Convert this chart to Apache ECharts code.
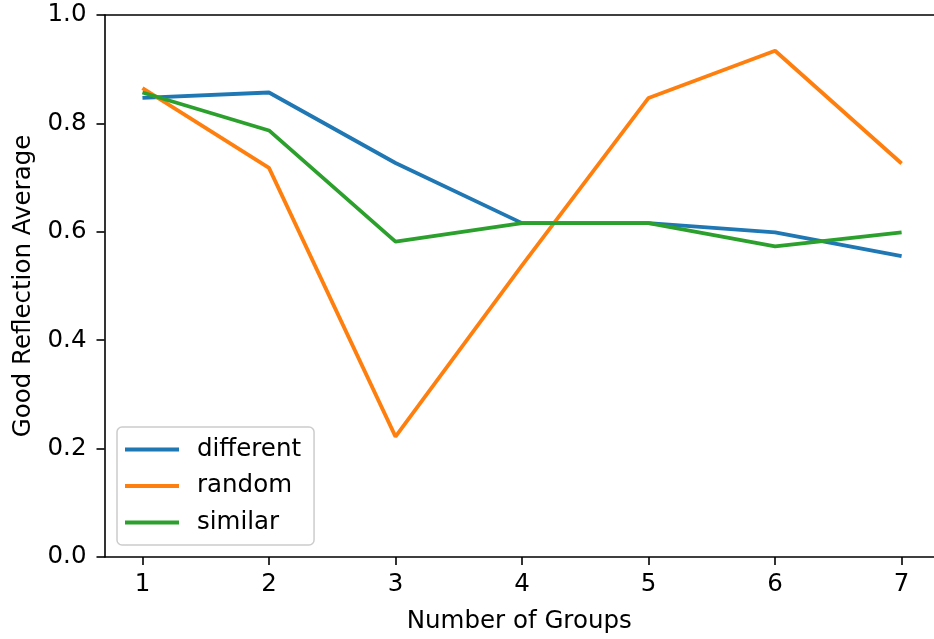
<!DOCTYPE html>
<html>
<head>
<meta charset="utf-8">
<script src="https://cdn.jsdelivr.net/npm/echarts@6/dist/echarts.min.js"></script>
<style>html,body{margin:0;padding:0;background:#fff}#c{width:934px;height:639px}</style>
</head>
<body>
<div id="c"></div>
<script>
const groups = [1, 2, 3, 4, 5, 6, 7];
const different = [0.847, 0.857, 0.727, 0.616, 0.616, 0.599, 0.555];
const random = [0.865, 0.718, 0.222, 0.538, 0.847, 0.934, 0.726];
const similar = [0.857, 0.787, 0.582, 0.616, 0.616, 0.573, 0.599];
const seriesNames = ['different', 'random', 'similar'];
const yTicks = [0, 0.2, 0.4, 0.6, 0.8, 1.0];

const colors = ['#1f77b4', '#ff7f0e', '#2ca02c'];
const FONT = 'DejaVu Sans';
const FS = 24.5;

function mk(name, vals, i) {
  return {
    name: name, type: 'line', showSymbol: false, symbol: 'none',
    xAxisIndex: 0,
    data: groups.map((g, k) => [g, vals[k]]),
    lineStyle: { color: colors[i], width: 3.8 },
    itemStyle: { color: colors[i] },
    animation: false
  };
}

const chart = echarts.init(document.getElementById('c'), null, { renderer: 'canvas' });
chart.setOption({
  animation: false,
  textStyle: { fontFamily: FONT },
  grid: { left: 104.5, top: 15, right: 0, bottom: 81.5, show: false },
  xAxis: [{
    type: 'value', min: 0.7, max: 7.256,
    splitLine: { show: false },
    axisLine: { lineStyle: { color: '#000', width: 1.6 } },
    axisTick: { show: true, length: 8, lineStyle: { color: '#000', width: 1.6 }, customValues: groups },
    axisLabel: { customValues: groups, color: '#000', fontSize: FS, fontFamily: FONT, margin: 15,
      formatter: v => String(v) },
    name: 'Number of Groups', nameLocation: 'middle', nameGap: 52,
    nameTextStyle: { color: '#000', fontSize: FS, fontFamily: FONT }
  }, {
    type: 'value', position: 'top', min: 0.7, max: 7.256,
    splitLine: { show: false },
    axisLine: { show: true, onZero: false, lineStyle: { color: '#000', width: 1.6 } },
    axisTick: { show: false }, axisLabel: { show: false }
  }],
  yAxis: {
    type: 'value', min: 0, max: 1, interval: 0.2,
    splitLine: { show: false },
    axisLine: { show: true, lineStyle: { color: '#000', width: 1.6 } },
    axisTick: { show: true, length: 8, lineStyle: { color: '#000', width: 1.6 } },
    axisLabel: { color: '#000', fontSize: FS, fontFamily: FONT, margin: 18,
      formatter: v => v.toFixed(1) },
    name: 'Good Reflection Average', nameLocation: 'middle', nameGap: 68,
    nameTextStyle: { color: '#000', fontSize: FS, fontFamily: FONT }
  },
  legend: {
    data: seriesNames.map((n, i) => ({ name: n, icon: 'rect', itemStyle: { color: colors[i] } })),
    orient: 'vertical', left: 117, top: 427,
    itemWidth: 54, itemHeight: 3.8, itemGap: 11.5,
    padding: [10, 13, 10, 8],
    backgroundColor: 'rgba(255,255,255,0.8)',
    borderColor: '#cccccc', borderWidth: 1.5, borderRadius: 5,
    textStyle: { color: '#000', fontSize: FS, fontFamily: FONT, padding: [0, 0, 0, 13] }
  },
  series: [mk('different', different, 0), mk('random', random, 1), mk('similar', similar, 2)]
});
</script>
</body>
</html>
